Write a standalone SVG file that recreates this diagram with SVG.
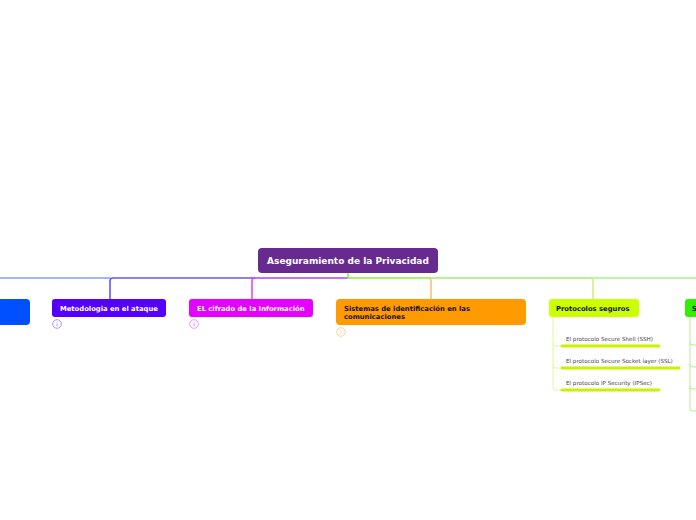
<svg xmlns="http://www.w3.org/2000/svg" width="696" height="520" viewBox="0 0 696 520">
<style>
.t{font-family:"DejaVu Sans","Verdana",sans-serif;font-weight:bold}
.s{font-family:"DejaVu Sans","Verdana",sans-serif;font-size:5.6px;fill:#444}
.c{fill:none;stroke-width:1.6;stroke-linecap:round}
.b{fill:none;stroke-width:1}
.bar{stroke:#ccf000;stroke-width:2.8;stroke-linecap:round}
.n{font-family:"DejaVu Sans",sans-serif;font-size:4.5px;text-anchor:middle}
</style>
<rect width="696" height="520" fill="#ffffff"/>
<g id="connectors">
  <path class="c" stroke="#7da2f5" d="M0 278 H110"/>
  <path class="c" stroke="#6a55f5" d="M110 299 V281 Q110 278 113 278 H252"/>
  <path class="c" stroke="#b045f0" d="M252 278 H348"/>
  <path class="c" stroke="#dd50ee" d="M252 299 V281 Q252 278 255 278"/>
  <path class="c" stroke="#8ef040" d="M348 273 V278 H428"/>
  <path class="c" stroke="#ffc070" d="M431 299 V281 Q431 278 428 278"/>
  <path class="c" stroke="#a0f070" d="M428 278 H590"/>
  <path class="c" stroke="#d0f080" d="M593 299 V281 Q593 278 590 278"/>
  <path class="c" stroke="#a8f48a" d="M590 278 H696"/>
  <path class="b" stroke="#e2f5a0" d="M553 317 V343 Q553 346 556 346 H561 M553 343 V365 Q553 368 556 368 H561 M553 365 V387 Q553 390 556 390 H561"/>
  <path class="b" stroke="#b0f090" d="M690 317 V342 Q690 345 693 345 H696 M690 342 V364 Q690 367 693 367 H696 M690 364 V386 Q690 389 693 389 H696 M690 386 V408 Q690 411 693 411 H696"/>
</g>
<g id="root">
  <rect x="258" y="248" width="180" height="25" rx="4" fill="#672a8e"/>
  <text class="t" x="348" y="264" font-size="9" fill="#ffffff" text-anchor="middle">Aseguramiento de la Privacidad</text>
</g>
<g id="node-left">
  <rect x="-10" y="299" width="40" height="26" rx="4" fill="#0050ff"/>
</g>
<g id="node-metodologia">
  <rect x="52" y="299" width="114" height="18" rx="3" fill="#5500ff"/>
  <text class="t" x="60" y="311" font-size="6.8" fill="#ffffff">Metodologia en el ataque</text>
  <circle cx="57" cy="324" r="4.3" fill="#ffffff" stroke="#aa88ff" stroke-width="0.9"/>
  <text class="n" x="57" y="325.6" fill="#aa88ff">3</text>
</g>
<g id="node-cifrado">
  <rect x="189" y="299" width="124" height="18" rx="3" fill="#e600ff"/>
  <text class="t" x="197" y="311" font-size="6.8" fill="#ffffff">EL cifrado de la Información</text>
  <circle cx="194" cy="324" r="4.3" fill="#ffffff" stroke="#f088ff" stroke-width="0.9"/>
  <text class="n" x="194" y="325.6" fill="#f088ff">4</text>
</g>
<g id="node-sistemas">
  <rect x="336" y="299" width="190" height="26" rx="4" fill="#ff9a00"/>
  <text class="t" x="344" y="311" font-size="6.8" fill="#111111">Sistemas de identificación en las</text>
  <text class="t" x="344" y="319" font-size="6.8" fill="#111111">comunicaciones</text>
  <circle cx="341" cy="332" r="4.3" fill="#ffffff" stroke="#ffcc88" stroke-width="0.9"/>
  <text class="n" x="341" y="333.6" fill="#ffcc88">2</text>
</g>
<g id="node-protocolos">
  <rect x="549" y="299" width="90" height="18" rx="3" fill="#ccff00"/>
  <text class="t" x="556" y="311" font-size="6.8" fill="#111111">Protocolos seguros</text>
</g>
<g id="sub-ssh">
  <text class="s" x="566" y="341">El protocolo Secure Shell (SSH)</text>
  <line class="bar" x1="562" y1="346" x2="659" y2="346"/>
</g>
<g id="sub-ssl">
  <text class="s" x="566" y="363">El protocolo Secure Socket layer (SSL)</text>
  <line class="bar" x1="562" y1="368" x2="679" y2="368"/>
</g>
<g id="sub-ipsec">
  <text class="s" x="566" y="385">El protocolo IP Security (IPSec)</text>
  <line class="bar" x1="562" y1="390" x2="659" y2="390"/>
</g>
<g id="node-right">
  <rect x="685" y="299" width="30" height="18" rx="3" fill="#33ee00"/>
  <text class="t" x="692" y="311" font-size="6.8" fill="#111111">S</text>
</g>
</svg>
